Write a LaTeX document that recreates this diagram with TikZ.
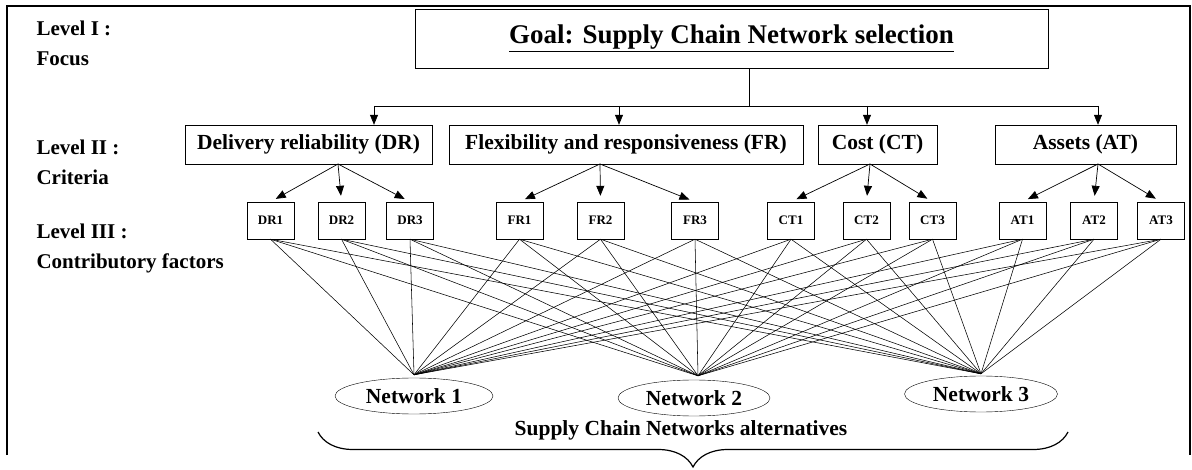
\documentclass[tikz,border=0pt]{standalone}
\usepackage{fontspec}
\setmainfont{Liberation Serif}
\usetikzlibrary{arrows.meta,shapes.geometric,decorations.pathreplacing}

\tikzset{
  goalbox/.style={draw, inner sep=0pt, font=\bfseries\fontsize{27}{30}\selectfont},
  critbox/.style={draw, inner sep=0pt, minimum height=39pt, font=\bfseries\fontsize{21.5}{24}\selectfont},
  factbox/.style={draw, inner sep=0pt, minimum width=47pt, minimum height=37pt, font=\bfseries\fontsize{13}{15}\selectfont},
  altnode/.style={draw, ellipse, inner sep=0pt, minimum height=36pt, font=\bfseries\fontsize{21.5}{24}\selectfont},
  levellabel/.style={anchor=west, align=left, font=\bfseries\fontsize{21}{30}\selectfont},
  linkarrow/.style={-{Triangle[length=10pt,width=8pt]}, line width=0.7pt},
  fanline/.style={line width=0.55pt},
}

\begin{document}
\begin{tikzpicture}[x=1pt, y=-1pt]
  \useasboundingbox (0,0) rectangle (1192,470);
  % frame
  \draw[line width=2pt] (7,455) -- (7,6) -- (1190,6) -- (1190,455);

  % level labels
  \node[levellabel] (lvl1) at (33,43) {Level I :\\Focus};
  \node[levellabel] (lvl2) at (33,162) {Level II :\\Criteria};
  \node[levellabel] (lvl3) at (33,248) {Level III :\\Contributory factors};

  % goal
  \node[goalbox, minimum width=633pt, minimum height=59pt] (goal) at (731.5,38.5)
    {\underline{Goal: Supply Chain Network selection}};

  % criteria
  \node[critbox, minimum width=247pt] (dr) at (308.5,144.5) {Delivery reliability (DR)};
  \node[critbox, minimum width=354pt] (fr) at (626,144.5) {Flexibility and responsiveness (FR)};
  \node[critbox, minimum width=119pt] (ct) at (877.5,144.5) {Cost (CT)};
  \node[critbox, minimum width=181pt] (at) at (1085.5,144.5) {Assets (AT)};

  \coordinate (split) at (749,106);
  \coordinate (tDR) at (374,106);
  \coordinate (tFR) at (619,106);
  \coordinate (tCT) at (867,106);
  \coordinate (tAT) at (1098,106);
  \draw[line width=0.7pt] (goal.south -| split) -- (split);
  \draw[line width=0.7pt] (tDR) -- (tAT);
  \foreach \c/\n in {tDR/dr, tFR/fr, tCT/ct, tAT/at}
    \draw[linkarrow] (\c) -- (\c |- \n.north);

  % contributory factors
  \node[factbox] (dr1) at (270.5,220.5) {DR1};
  \node[factbox] (dr2) at (341.5,220.5) {DR2};
  \node[factbox] (dr3) at (410,220.5) {DR3};
  \node[factbox] (fr1) at (519.5,220.5) {FR1};
  \node[factbox] (fr2) at (600.5,220.5) {FR2};
  \node[factbox] (fr3) at (695,220.5) {FR3};
  \node[factbox] (ct1) at (791,220.5) {CT1};
  \node[factbox] (ct2) at (866.5,220.5) {CT2};
  \node[factbox] (ct3) at (932.5,220.5) {CT3};
  \node[factbox] (at1) at (1022.5,220.5) {AT1};
  \node[factbox] (at2) at (1094,220.5) {AT2};
  \node[factbox] (at3) at (1161,220.5) {AT3};

  \coordinate (oDR) at (338,164);
  \coordinate (oFR) at (600,164);
  \coordinate (oCT) at (870,164);
  \coordinate (oAT) at (1098,164);
  \foreach \o/\n in {oDR/dr, oFR/fr, oCT/ct, oAT/at}
    \foreach \i in {1,2,3}
      \draw[linkarrow, shorten >=6pt] (\o) -- (\n\i.north);

  % alternatives
  \node[altnode, minimum width=158pt] (net1) at (414,396) {Network 1};
  \node[altnode, minimum width=152pt] (net2) at (694,398) {Network 2};
  \node[altnode, minimum width=153pt] (net3) at (981,394) {Network 3};
  \coordinate (c1) at ([yshift=3pt]net1.north);
  \coordinate (c2) at ([xshift=4pt,yshift=4pt]net2.north);
  \coordinate (c3) at ([yshift=2pt]net3.north);

  \foreach \f in {dr1,dr2,dr3,fr1,fr2,fr3,ct1,ct2,ct3,at1,at2,at3}
    \foreach \k in {1,2,3}
      \draw[fanline] (\f.south) -- (c\k);

  % brace
  \coordinate (braceL) at (318,432);
  \coordinate (braceR) at (1068,432);
  \draw[line width=1.2pt, decorate, decoration={brace, mirror, amplitude=35pt}] (braceL) -- (braceR);
  \node[font=\bfseries\fontsize{21.5}{24}\selectfont] (alts) at (681,430) {Supply Chain Networks alternatives};
\end{tikzpicture}
\end{document}
